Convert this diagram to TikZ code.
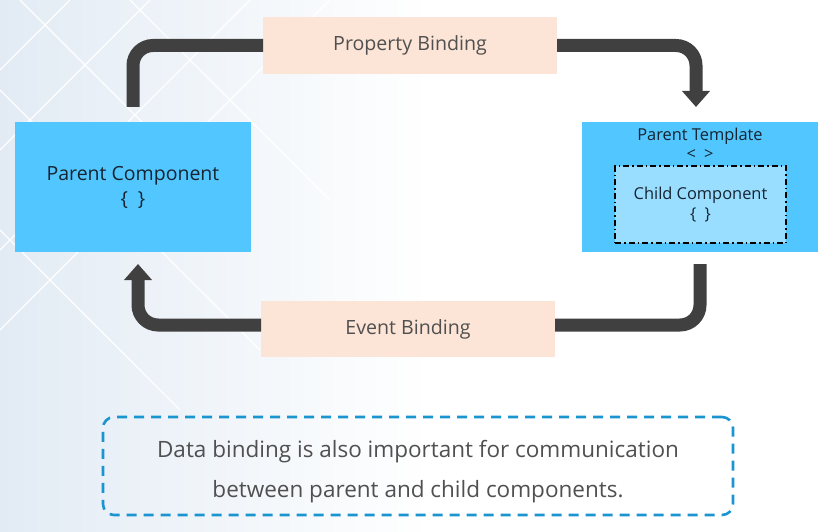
\documentclass[tikz,border=0pt]{standalone}
\usepackage{fontspec}
\setmainfont{Open Sans}
\usetikzlibrary{arrows.meta,positioning}

\definecolor{compblue}{RGB}{82,199,255}
\definecolor{childblue}{RGB}{153,221,255}
\definecolor{bindpeach}{RGB}{252,228,214}
\definecolor{flowgray}{RGB}{64,64,64}
\definecolor{noteblue}{RGB}{27,149,208}
\definecolor{bgblue}{RGB}{226,235,244}
\definecolor{textdark}{RGB}{22,36,50}
\definecolor{textgray}{RGB}{80,80,80}

\tikzset{
  comp/.style={fill=compblue, minimum width=236pt, minimum height=130pt,
    outer sep=0pt, text=textdark, align=center,
    font=\fontsize{19.5}{25}\selectfont},
  child/.style={fill=childblue, draw=black, line width=1.4pt,
    dash pattern=on 6pt off 3pt on 1.5pt off 3pt,
    minimum width=171pt, minimum height=77pt, outer sep=0pt},
  small/.style={text=textdark, align=center, font=\fontsize{16.4}{19.5}\selectfont},
  bind/.style={fill=bindpeach, minimum width=294pt, minimum height=57pt,
    outer sep=0pt, text=textgray, font=\fontsize{19.6}{22}\selectfont},
  note/.style={draw=noteblue, line width=2.6pt, rounded corners=11pt,
    dash pattern=on 10pt off 7pt, minimum width=630pt, minimum height=98pt},
  notetext/.style={text=textgray, align=center, font=\fontsize{22.5}{40}\selectfont},
  flow/.style={draw=flowgray, line width=13pt, rounded corners=20pt},
  flowtip/.style={-{Triangle[width=27pt,length=16pt]}},
}

\begin{document}
\begin{tikzpicture}[x=1pt,y=-1pt]
  \useasboundingbox (0,0) rectangle (835,532);
  % background
  \shade[left color=bgblue, right color=white] (0,0) rectangle (430,532);
  \fill[white] (430,0) rectangle (835,532);
  \begin{scope}
    \clip (0,0) rectangle (330,420);
    \draw[white, line width=1.2pt]
      (0,70) -- (70,0)  (0,150) -- (150,0)  (0,250) -- (250,0)
      (0,330) -- (330,0)  (20,0) -- (240,220)  (0,90) -- (260,350)
      (130,0) -- (330,200)  (0,230) -- (180,410);
  \end{scope}

  % boxes
  \node[comp] (pc) at (133,187) {Parent Component\\\{\hspace{0.5em}\}};
  \node[comp] (pt) at (700,187) {};
  \node[small] (ptl) at (700,144) {Parent Template\\<\hspace{0.5em}>};
  \node[child, small] (cc) at (700.5,204.5) {Child Component\\\{\hspace{0.5em}\}};
  \node[bind] (pb) at (410,45.5) {Property Binding};
  \node[bind, minimum height=56pt] (eb) at (408,329) {Event Binding};

  % connectors
  \draw[flow] ([yshift=15pt]pc.north) |- (pb.west);
  \draw[flow, flowtip] (pb.east) -| ([shift={(-4pt,15pt)}]pt.north);
  \draw[flow] ([yshift=-12pt]pt.south) |- ([yshift=4pt]eb.east);
  \draw[flow, flowtip] ([yshift=4pt]eb.west) -| ([shift={(5pt,-12pt)}]pc.south);

  % note
  \node[note] (nt) at (418,466) {};
  \node[notetext] (ntt) at (418,472)
    {Data binding is also important for communication\\between parent and child components.};
\end{tikzpicture}
\end{document}
